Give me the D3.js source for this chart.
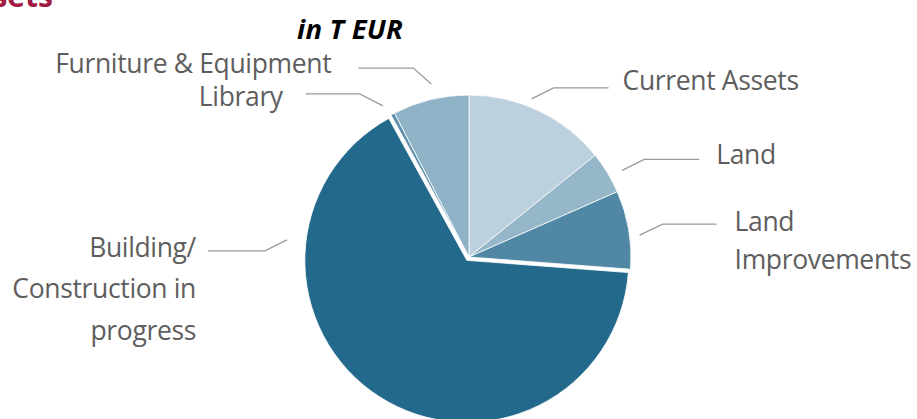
<!DOCTYPE html>
<html>
<head>
<meta charset="utf-8">
<script src="https://cdn.jsdelivr.net/npm/d3@7"></script>
<style>
  html, body { margin: 0; padding: 0; background: #fff; }
  svg { display: block; }
</style>
</head>
<body>
<div id="chart"></div>
<script>
// shares of total assets (in T EUR)
const categories = ["Current Assets", "Land", "Land Improvements", "Building/ Construction in progress", "Library", "Furniture & Equipment"];
const values = [14.2, 4.2, 7.8, 65.8, 0.4, 7.6];
const colors = ["#bcd1dd", "#95b7c9", "#4f87a4", "#23698c", "#5f90ac", "#8fb2c6"];
const labelLines = [["Current Assets"], ["Land"], ["Land", "Improvements"], ["Building/", "Construction in", "progress"], ["Library"], ["Furniture & Equipment"]];

const width = 917, height = 419;
const cx = 469, cy = 257, radius = 162;
const explodeIndex = 3, explodeBy = 4;

// leader line layout: angle (deg), start radius, elbow offset, run length, text gap, baseline shift, line gap
const layout = [
  { a: 21.6, r: 170, ex: 22, ey: -11, run: 55, gap: 14, dy: 2.5, lh: 38 },
  { a: 60.5, r: 176, ex: 22, ey: -11, run: 55, gap: 17, dy: 5, lh: 38 },
  { a: 82.7, r: 172, ex: 23, ey: -11, run: 54, gap: 18, dy: 6.5, lh: 38 },
  { a: 276.5, r: 181, ex: -22, ey: 11, run: 57, gap: 12, dy: 6, lh: 41.5 },
  { a: 330.3, r: 174, ex: -23, ey: -12, run: 54, gap: 23, dy: 12, lh: 38 },
  { a: 347.7, r: 177, ex: -18, ey: -16, run: 55, gap: 27, dy: 5, lh: 38 }
];

const svg = d3.select("#chart").append("svg")
  .attr("width", width)
  .attr("height", height);

// title, cut off at the top edge like in the original
svg.append("text")
  .attr("x", 53).attr("y", 7)
  .attr("text-anchor", "end")
  .style("font-family", "'Open Sans', sans-serif")
  .style("font-weight", "bold")
  .style("font-size", "30px")
  .style("fill", "#a01a44")
  .text("Assets");

svg.append("text")
  .attr("x", 403).attr("y", 39)
  .attr("text-anchor", "end")
  .style("font-family", "'Open Sans', sans-serif")
  .style("font-weight", "bold")
  .style("font-style", "italic")
  .style("font-size", "27.5px")
  .style("letter-spacing", "0.2px")
  .style("fill", "#000")
  .text("in T EUR");

const pie = d3.pie().sort(null).value(d => d);
const arcs = pie(values);
const arc = d3.arc().innerRadius(0).outerRadius(radius);

const offset = (d, i) => {
  if (i !== explodeIndex) return [0, 0];
  const m = (d.startAngle + d.endAngle) / 2;
  return [Math.sin(m) * explodeBy, -Math.cos(m) * explodeBy];
};

const g = svg.append("g").attr("transform", `translate(${cx},${cy})`);

g.selectAll("path.slice")
  .data(arcs)
  .enter()
  .append("path")
  .attr("class", "slice")
  .attr("transform", (d, i) => `translate(${offset(d, i)})`)
  .attr("d", arc)
  .attr("fill", (d, i) => colors[i])
  .attr("stroke", "#fff")
  .attr("stroke-width", 0.8);

// leader lines + labels
const lbl = g.selectAll("g.lbl")
  .data(arcs)
  .enter()
  .append("g")
  .attr("class", "lbl");

lbl.each(function(d, i) {
  const L = layout[i];
  const [ox, oy] = offset(d, i);
  const a = L.a * Math.PI / 180;
  const x0 = ox + Math.sin(a) * L.r, y0 = oy - Math.cos(a) * L.r;
  const x1 = x0 + L.ex, y1 = y0 + L.ey;
  const right = L.ex > 0;
  const x2 = x1 + (right ? L.run : -L.run);
  const sel = d3.select(this);
  sel.append("path")
    .attr("d", d3.line()([[x0, y0], [x1, y1], [x2, y1]]))
    .attr("fill", "none")
    .attr("stroke", "#9a9a9a")
    .attr("stroke-width", 1.3);
  const t = sel.append("text")
    .attr("x", x2 + (right ? L.gap : -L.gap))
    .attr("y", y1 + L.dy)
    .attr("text-anchor", right ? "start" : "end")
    .style("font-family", "'Open Sans', sans-serif")
    .style("font-size", "26.5px")
    .style("letter-spacing", "-0.35px")
    .style("fill", "#5e5e5e");
  labelLines[i].forEach((s, k) => {
    t.append("tspan")
      .attr("x", x2 + (right ? L.gap : -L.gap))
      .attr("dy", k === 0 ? 0 : L.lh)
      .text(s);
  });
});
</script>
</body>
</html>
